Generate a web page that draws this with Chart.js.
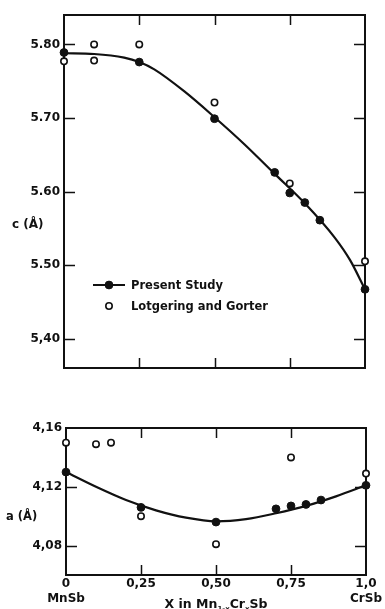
<!DOCTYPE html>
<html>
<head>
<meta charset="utf-8">
<script src="https://cdn.jsdelivr.net/npm/chart.js@4/dist/chart.umd.min.js"></script>
<style>
  html, body { margin: 0; padding: 0; background: #fff; overflow: hidden; }
  body { width: 385px; height: 609px; position: relative; font-family: "DejaVu Sans", sans-serif; color: #111; }
  canvas { position: absolute; left: 0; }
  #cTop { top: 0; }
  #cBot { top: 400px; }
  .lab { position: absolute; font-weight: bold; white-space: nowrap; line-height: 1; }
  #cLab { left: 12px; top: 218px; font-size: 12px; }
  #aLab { left: 6px; top: 511px; font-size: 11.5px; }
  #xLab { left: 216px; top: 598px; font-size: 12.5px; transform: translateX(-50%); }
  #xLab sub { font-size: 7px; vertical-align: -3px; }
</style>
</head>
<body>
<canvas id="cTop" width="385" height="385"></canvas>
<canvas id="cBot" width="385" height="209"></canvas>
<div class="lab" id="cLab">c (Å)</div>
<div class="lab" id="aLab">a (Å)</div>
<div class="lab" id="xLab">X in Mn<sub>1-x</sub>Cr<sub>x</sub>Sb</div>
<script>
// composition x in Mn(1-x)Cr(x)Sb, lattice constants in Angstrom

// present study
const presentX = [0, 0.25, 0.50, 0.70, 0.75, 0.80, 0.85, 1.0];
const presentC = [5.789, 5.776, 5.699, 5.626, 5.598, 5.585, 5.561, 5.467];
const presentA = [4.130, 4.106, 4.096, 4.105, 4.107, 4.108, 4.111, 4.121];

// Lotgering and Gorter
const lgCX = [0, 0.10, 0.10, 0.25, 0.50, 0.75, 1.0];
const lgC = [5.777, 5.800, 5.778, 5.800, 5.721, 5.611, 5.505];
const lgAX = [0, 0.10, 0.15, 0.25, 0.50, 0.75, 1.0];
const lgA = [4.150, 4.149, 4.150, 4.100, 4.081, 4.140, 4.129];

// smooth curves through the present-study points
const fitCX = [0, 0.1, 0.2, 0.25, 0.3, 0.4, 0.5, 0.6, 0.7, 0.8, 0.9, 0.95, 1.0];
const fitC = [5.788, 5.787, 5.782, 5.776, 5.766, 5.736, 5.701, 5.664, 5.624, 5.584, 5.537, 5.507, 5.467];
const fitAX = [0, 0.1, 0.2, 0.3, 0.4, 0.5, 0.6, 0.7, 0.8, 0.9, 1.0];
const fitA = [4.130, 4.120, 4.111, 4.104, 4.099, 4.0965, 4.098, 4.102, 4.107, 4.1135, 4.121];

// ticks
const xTicks = [0, 0.25, 0.50, 0.75, 1.0];
const xTickLabels = [['0', 'MnSb'], '0,25', '0,50', '0,75', ['1,0', 'CrSb']];
const cTicks = [5.40, 5.50, 5.60, 5.70, 5.80];
const cTickLabels = ['5,40', '5.50', '5.60', '5.70', '5.80'];
const aTicks = [4.08, 4.12, 4.16];
const aTickLabels = ['4,08', '4,12', '4,16'];

const INK = '#111';
const tickFont = { family: '"DejaVu Sans", sans-serif', size: 12, weight: 'bold', lineHeight: 1.2 };

const pts = (xs, ys) => xs.map((x, i) => ({ x, y: ys[i] }));

// frame around the plot with inward tick marks on all four sides
const frameTicks = {
  id: 'frameTicks',
  beforeDatasetsDraw(chart, args, opts) {
    const { ctx, chartArea: a, scales: { x, y } } = chart;
    ctx.save();
    ctx.strokeStyle = INK;
    ctx.lineWidth = 2;
    ctx.strokeRect(a.left, a.top, a.right - a.left, a.bottom - a.top);
    ctx.lineWidth = 1.5;
    ctx.beginPath();
    opts.xs.forEach(v => {
      const px = Math.round(x.getPixelForValue(v)) + 0.5;
      ctx.moveTo(px, a.top); ctx.lineTo(px, a.top + opts.len);
      ctx.moveTo(px, a.bottom); ctx.lineTo(px, a.bottom - opts.len);
    });
    opts.ys.forEach(v => {
      const py = Math.round(y.getPixelForValue(v)) + 0.5;
      ctx.moveTo(a.left, py); ctx.lineTo(a.left + opts.len + 1, py);
      ctx.moveTo(a.right, py); ctx.lineTo(a.right - opts.len - 1, py);
    });
    ctx.stroke();
    ctx.restore();
  }
};

// legend drawn inside the plot, styled from the datasets themselves
const insideLegend = {
  id: 'insideLegend',
  afterDraw(chart, args, opts) {
    if (!opts.items) return;
    const { ctx } = chart;
    ctx.save();
    ctx.font = 'bold 11.5px "DejaVu Sans", sans-serif';
    ctx.textBaseline = 'middle';
    opts.items.forEach((it, i) => {
      const ds = chart.data.datasets[it.dataset];
      const y = opts.y + i * opts.gap;
      const cx = opts.x + 16;
      if (it.line) {
        ctx.strokeStyle = INK;
        ctx.lineWidth = 2;
        ctx.beginPath();
        ctx.moveTo(opts.x, y); ctx.lineTo(opts.x + 32, y);
        ctx.stroke();
      }
      ctx.beginPath();
      ctx.arc(cx, y, ds.pointRadius, 0, Math.PI * 2);
      ctx.fillStyle = ds.pointBackgroundColor;
      ctx.fill();
      ctx.lineWidth = ds.pointBorderWidth;
      ctx.strokeStyle = ds.pointBorderColor;
      ctx.stroke();
      ctx.fillStyle = INK;
      ctx.fillText(ds.label, opts.x + 38, y + 1);
    });
    ctx.restore();
  }
};

function datasets(px, py, lx, ly, fx, fy) {
  return [
    { label: 'Present Study', data: pts(px, py), showLine: false, clip: false,
      pointRadius: 3.9, pointBackgroundColor: INK, pointBorderColor: INK, pointBorderWidth: 1 },
    { label: 'Lotgering and Gorter', data: pts(lx, ly), showLine: false, clip: false,
      pointRadius: 3.2, pointBackgroundColor: '#fff', pointBorderColor: INK, pointBorderWidth: 1.6 },
    { label: 'fit', data: pts(fx, fy), showLine: true, clip: false, pointRadius: 0,
      borderColor: INK, borderWidth: 2.2, cubicInterpolationMode: 'monotone' }
  ];
}

function yScale(min, max, ticks, labels, width) {
  return {
    min, max,
    grid: { display: false, drawTicks: false },
    border: { display: false },
    afterBuildTicks: s => { s.ticks = ticks.map(value => ({ value })); },
    afterFit: s => { s.width = width; },
    ticks: { color: INK, font: tickFont, padding: 4, callback: (v, i) => labels[i] }
  };
}

Chart.defaults.animation = false;

new Chart(document.getElementById('cTop'), {
  type: 'scatter',
  data: { datasets: datasets(presentX, presentC, lgCX, lgC, fitCX, fitC) },
  options: {
    responsive: false,
    events: [],
    layout: { padding: { top: 15, right: 20, bottom: 17, left: 0 } },
    scales: {
      x: { type: 'linear', min: 0, max: 1, display: false },
      y: yScale(5.36, 5.84, cTicks, cTickLabels, 64)
    },
    plugins: {
      legend: { display: false },
      tooltip: { enabled: false },
      frameTicks: { xs: [0.25, 0.5, 0.75], ys: cTicks, len: 10 },
      insideLegend: { x: 93, y: 285, gap: 21, items: [{ dataset: 0, line: true }, { dataset: 1 }] }
    }
  },
  plugins: [frameTicks, insideLegend]
});

new Chart(document.getElementById('cBot'), {
  type: 'scatter',
  data: { datasets: datasets(presentX, presentA, lgAX, lgA, fitAX, fitA) },
  options: {
    responsive: false,
    events: [],
    layout: { padding: { top: 28, right: 19, bottom: 0, left: 0 } },
    scales: {
      x: {
        type: 'linear', min: 0, max: 1,
        grid: { display: false, drawTicks: false },
        border: { display: false },
        afterBuildTicks: s => { s.ticks = xTicks.map(value => ({ value })); },
        afterFit: s => { s.height = 34; },
        ticks: { color: INK, font: tickFont, padding: 2, maxRotation: 0, autoSkip: false,
                 callback: (v, i) => xTickLabels[i] }
      },
      y: yScale(4.06, 4.16, aTicks, aTickLabels, 66)
    },
    plugins: {
      legend: { display: false },
      tooltip: { enabled: false },
      frameTicks: { xs: [0.25, 0.5, 0.75], ys: [4.08, 4.12], len: 10 }
    }
  },
  plugins: [frameTicks, insideLegend]
});
</script>
</body>
</html>
